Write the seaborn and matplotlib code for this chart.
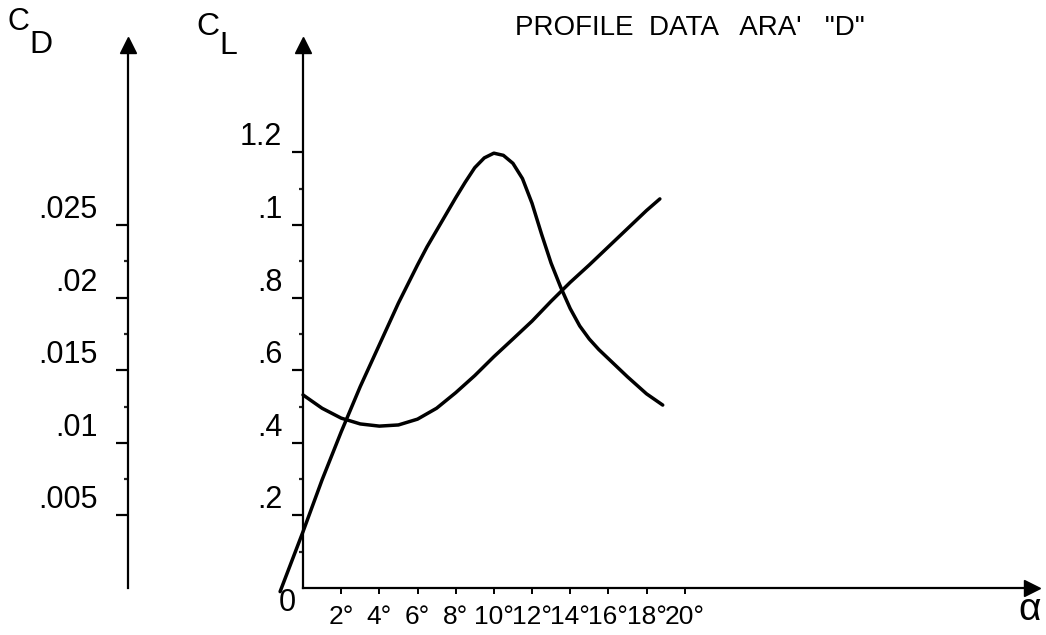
import numpy as np
import pandas as pd
import matplotlib
matplotlib.use("Agg")
import matplotlib.pyplot as plt
import seaborn as sns

# lift coefficient vs angle of attack (deg)
alpha_cl = [-1.2, 0, 1, 2, 3, 4, 5, 6, 6.5, 7, 7.5, 8, 8.5, 9, 9.5, 10, 10.5,
            11, 11.5, 12, 12.5, 13, 13.5, 14, 14.5, 15, 15.5, 16, 17, 18, 18.85]
cl = [-0.01, 0.155, 0.298, 0.43, 0.555, 0.67, 0.785, 0.89, 0.94, 0.985,
      1.03, 1.075, 1.118, 1.158, 1.185, 1.198, 1.192, 1.17, 1.128, 1.06,
      0.975, 0.895, 0.829, 0.77, 0.722, 0.686, 0.657, 0.632, 0.582, 0.535,
      0.504]

# drag coefficient vs angle of attack (deg)
alpha_cd = [0, 1, 2, 3, 4, 5, 6, 7, 8, 9, 10, 11, 12, 13, 14, 15, 16, 17,
            18, 18.7]
cd = [0.0133, 0.01238, 0.0117, 0.0113, 0.01115, 0.01123, 0.01163, 0.01238,
      0.01345, 0.01463, 0.01593, 0.01715, 0.01838, 0.01975, 0.02105,
      0.02225, 0.0235, 0.02475, 0.026, 0.0268]

cl_ticks = [0.2, 0.4, 0.6, 0.8, 1.0, 1.2]
cl_labels = [".2", ".4", ".6", ".8", ".1", "1.2"]
cd_ticks = [0.005, 0.01, 0.015, 0.02, 0.025]
cd_labels = [".005", ".01", ".015", ".02", ".025"]
x_ticks = [2, 4, 6, 8, 10, 12, 14, 16, 18, 20]
x_labels = [f"{v}°" for v in x_ticks]

sns.set_style("white")
plt.rcParams["font.family"] = ["Liberation Sans", "DejaVu Sans"]
plt.rcParams["text.color"] = "black"

fig = plt.figure(figsize=(10.46, 6.35), dpi=100)
ax = fig.add_axes([303 / 1046, 47 / 635, 729 / 1046, 543 / 635])
ax.set_xlim(0, 38.2)
ax.set_ylim(0, 1.496)

df_cl = pd.DataFrame({"alpha": alpha_cl, "cl": cl})
sns.lineplot(data=df_cl, x="alpha", y="cl", ax=ax, color="black",
             linewidth=2.5, estimator=None, sort=False)

ax2 = ax.twinx()
ax2.set_ylim(0, 1.496 / 40)
df_cd = pd.DataFrame({"alpha": alpha_cd, "cd": cd})
sns.lineplot(data=df_cd, x="alpha", y="cd", ax=ax2, color="black",
             linewidth=2.5, estimator=None, sort=False)

for a in (ax, ax2):
    for ln in a.get_lines():
        ln.set_clip_on(False)
        ln.set_solid_joinstyle("round")
        ln.set_solid_capstyle("round")
    a.set_xlabel("")
    a.set_ylabel("")

# spines
for s in ["top", "right"]:
    ax.spines[s].set_visible(False)
for s in ["top", "right", "bottom"]:
    ax2.spines[s].set_visible(False)
ax2.spines["left"].set_visible(True)
ax2.spines["left"].set_position(("axes", -0.24))
for sp in [ax.spines["left"], ax.spines["bottom"], ax2.spines["left"]]:
    sp.set_color("black")
    sp.set_linewidth(1.6)

# ticks
ax.set_xticks(x_ticks)
ax.set_xticklabels(x_labels, fontsize=19)
ax.set_yticks(cl_ticks)
ax.set_yticklabels(cl_labels, fontsize=22, va="bottom")
ax.set_yticks([0.1, 0.3, 0.5, 0.7, 0.9, 1.1], minor=True)
ax.tick_params(axis="x", direction="out", length=4, width=1.4, pad=8,
               colors="black", bottom=True)
ax.tick_params(axis="y", which="major", direction="out", length=8, width=1.6,
               pad=7, colors="black", left=True)
ax.tick_params(axis="y", which="minor", direction="out", length=3, width=1.6,
               left=True)

ax2.yaxis.set_ticks_position("left")
ax2.set_yticks(cd_ticks)
ax2.set_yticklabels(cd_labels, fontsize=22, va="bottom")
ax2.set_yticks([0.0075, 0.0125, 0.0175, 0.0225], minor=True)
ax2.tick_params(axis="y", which="major", direction="out", length=9, width=1.6,
                pad=13, colors="black", left=True, right=False)
ax2.tick_params(axis="y", which="minor", direction="out", length=3, width=1.6,
                left=True, right=False)

# arrow heads
ax.plot([0], [1], marker="^", ms=12, color="black", transform=ax.transAxes,
        clip_on=False)
ax.plot([-0.24], [1], marker="^", ms=12, color="black", transform=ax.transAxes,
        clip_on=False)
ax.plot([1], [0], marker=">", ms=12, color="black", transform=ax.transAxes,
        clip_on=False)

# labels
ax.text(-0.8, -0.04, "0", fontsize=22, ha="center", va="center")
fig.text(1030 / 1046, 1 - 610 / 635, "α", fontsize=28, ha="center",
         va="center")
fig.text(18 / 1046, 1 - 22 / 635, "C", fontsize=22, ha="center",
         va="center")
fig.text(41 / 1046, 1 - 45 / 635, "D", fontsize=23, ha="center",
         va="center")
fig.text(208 / 1046, 1 - 27 / 635, "C", fontsize=23, ha="center",
         va="center")
fig.text(228 / 1046, 1 - 46 / 635, "L", fontsize=23, ha="center",
         va="center")
fig.text(690 / 1046, 1 - 28 / 635, 'PROFILE  DATA   ARA\'   "D"',
         fontsize=20, ha="center", va="center")

fig.savefig("out.png", dpi=100)
